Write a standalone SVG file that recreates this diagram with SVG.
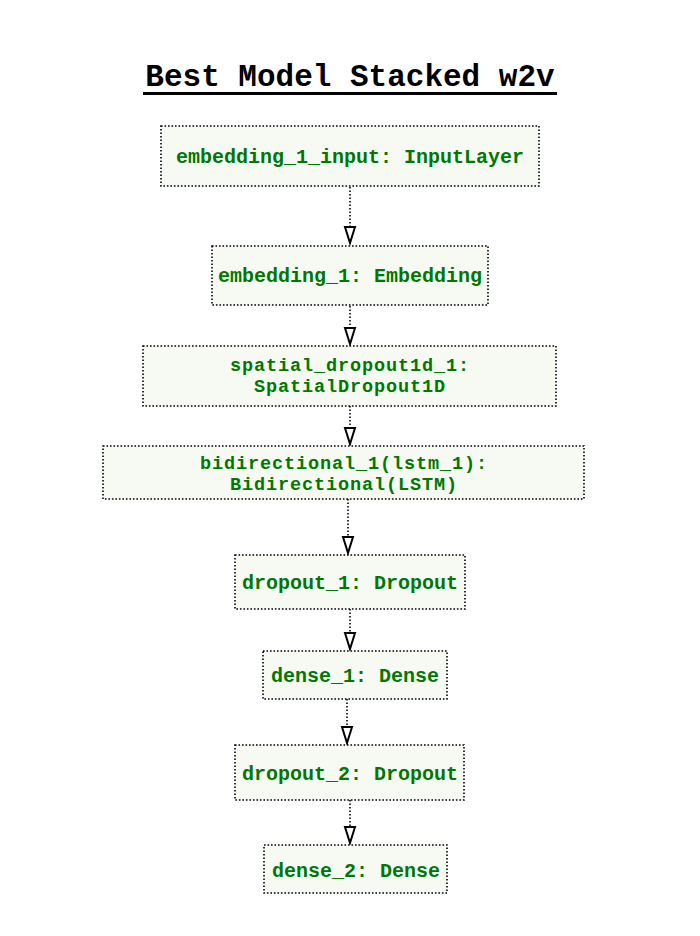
<svg xmlns="http://www.w3.org/2000/svg" width="700" height="936" viewBox="0 0 700 936">
  <style>
    .node rect { fill: #f7faf3; stroke: #000; stroke-width: 1.6; stroke-dasharray: 1.6 1.9; }
    .node text { font-family: "Liberation Mono", "DejaVu Sans Mono", monospace; font-weight: bold; font-size: 20px; fill: #007700; text-anchor: middle; }
    .node text.two { font-size: 18.5px; letter-spacing: 0.9px; }
    .edge { stroke: #000; stroke-width: 1.6; stroke-dasharray: 1.6 1.9; fill: none; marker-end: url(#arrow); }
    .title { font-family: "Liberation Mono", "DejaVu Sans Mono", monospace; font-weight: bold; font-size: 31px; fill: #000; text-anchor: middle; }
  </style>
  <defs>
    <marker id="arrow" markerUnits="userSpaceOnUse" markerWidth="20" markerHeight="14" refX="16" refY="0" viewBox="-1 -7 19 14" orient="auto">
      <path d="M0,-5 L16,0 L0,5 Z" fill="#fff" stroke="#000" stroke-width="2" stroke-linejoin="miter"/>
    </marker>
  </defs>
  <rect width="700" height="936" fill="#fff"/>

  <g id="title">
    <text class="title" x="350" y="86">Best Model Stacked w2v</text>
    <rect x="143" y="92" width="414" height="3" fill="#000"/>
  </g>

  <g id="connectors">
    <line class="edge" x1="350" y1="187" x2="350" y2="243"/>
    <line class="edge" x1="350" y1="306" x2="350" y2="344"/>
    <line class="edge" x1="350" y1="406" x2="350" y2="444"/>
    <line class="edge" x1="348" y1="499" x2="348" y2="553"/>
    <line class="edge" x1="350" y1="609" x2="350" y2="649"/>
    <line class="edge" x1="347" y1="699" x2="347" y2="743"/>
    <line class="edge" x1="350" y1="800" x2="350" y2="843"/>
  </g>

  <g id="embedding_1_input" class="node">
    <rect x="161" y="126" width="378" height="60"/>
    <text x="350" y="163">embedding_1_input: InputLayer</text>
  </g>
  <g id="embedding_1" class="node">
    <rect x="212" y="246" width="276" height="59"/>
    <text x="350" y="282">embedding_1: Embedding</text>
  </g>
  <g id="spatial_dropout1d_1" class="node">
    <rect x="143" y="346" width="413" height="60"/>
    <text class="two" x="350" y="371">spatial_dropout1d_1:<tspan x="350" dy="21">SpatialDropout1D</tspan></text>
  </g>
  <g id="bidirectional_1" class="node">
    <rect x="103" y="446" width="481" height="53"/>
    <text class="two" x="344" y="468.5">bidirectional_1(lstm_1):<tspan x="344" dy="21">Bidirectional(LSTM)</tspan></text>
  </g>
  <g id="dropout_1" class="node">
    <rect x="235" y="555" width="230" height="54"/>
    <text x="350" y="589">dropout_1: Dropout</text>
  </g>
  <g id="dense_1" class="node">
    <rect x="263" y="651" width="184" height="48"/>
    <text x="355" y="682">dense_1: Dense</text>
  </g>
  <g id="dropout_2" class="node">
    <rect x="235" y="745" width="229" height="55"/>
    <text x="350" y="780">dropout_2: Dropout</text>
  </g>
  <g id="dense_2" class="node">
    <rect x="264" y="845" width="183" height="48"/>
    <text x="356" y="877">dense_2: Dense</text>
  </g>
</svg>
